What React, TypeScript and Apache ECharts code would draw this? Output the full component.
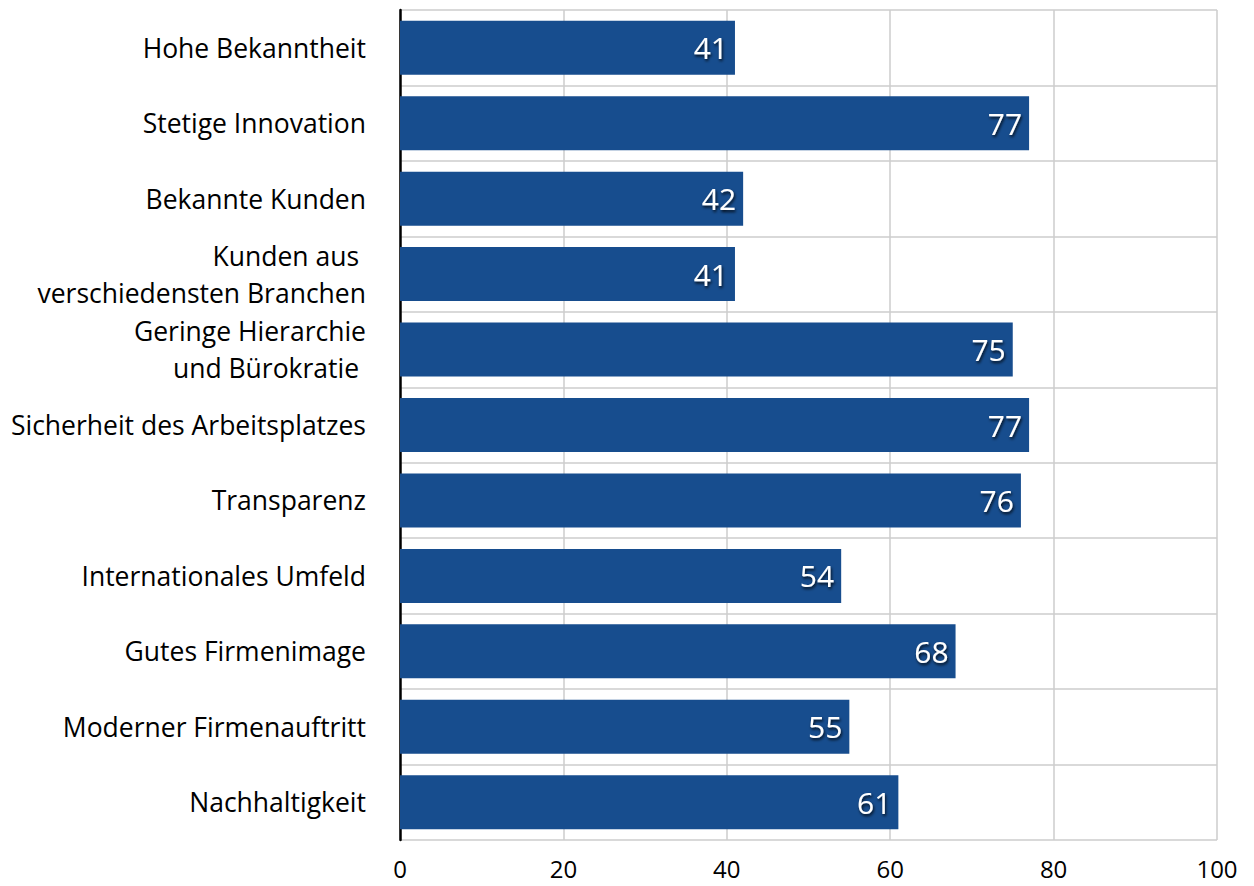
import React, { useEffect, useRef } from "react";
import * as echarts from "echarts";

const categories = [
  "Hohe Bekanntheit",
  "Stetige Innovation",
  "Bekannte Kunden",
  "Kunden aus \nverschiedensten Branchen",
  "Geringe Hierarchie\nund Bürokratie ",
  "Sicherheit des Arbeitsplatzes",
  "Transparenz",
  "Internationales Umfeld",
  "Gutes Firmenimage",
  "Moderner Firmenauftritt",
  "Nachhaltigkeit",
];
const values = [41, 77, 42, 41, 75, 77, 76, 54, 68, 55, 61];
const xTicks = { min: 0, max: 100, interval: 20 };

const FONT = "'Open Sans', 'Noto Sans', sans-serif";

export default function App() {
  const ref = useRef<HTMLDivElement>(null);
  useEffect(() => {
    if (!ref.current) return;
    const chart = echarts.init(ref.current, undefined, { renderer: "svg" });
    chart.setOption({
      animation: false,
      grid: { left: 400, right: 37, top: 10, bottom: 46, containLabel: false },
      xAxis: {
        type: "value",
        min: xTicks.min,
        max: xTicks.max,
        interval: xTicks.interval,
        axisLine: { show: false },
        axisTick: { show: false },
        axisLabel: { color: "#000", fontSize: 24, fontFamily: FONT, margin: 15, lineHeight: 26 },
        splitLine: { show: true, lineStyle: { color: "#cccccc", width: 1.5 } },
      },
      yAxis: {
        type: "category",
        data: categories,
        inverse: true,
        axisLine: { show: true, onZero: false, lineStyle: { color: "#000", width: 2.5 } },
        axisTick: { show: false },
        axisLabel: {
          color: "#000",
          fontSize: 26.5,
          fontFamily: FONT,
          margin: 34,
          lineHeight: 37,
          align: "right",
        },
        splitLine: { show: true, interval: 0, lineStyle: { color: "#cccccc", width: 1.5 } },
      },
      series: [
        {
          type: "bar",
          data: values,
          barWidth: 54,
          itemStyle: { color: "#174D8E" },
          label: {
            show: true,
            position: "insideRight",
            distance: 7,
            color: "#fff",
            fontSize: 30,
            fontFamily: FONT,
            textShadowColor: "rgba(0,0,0,0.85)",
            textShadowBlur: 3,
            textShadowOffsetX: 1,
            textShadowOffsetY: 2,
          },
        },
      ],
    });
    return () => chart.dispose();
  }, []);
  return <div ref={ref} style={{ width: 1254, height: 886, position: "absolute", left: 0, top: 0 }} />;
}
